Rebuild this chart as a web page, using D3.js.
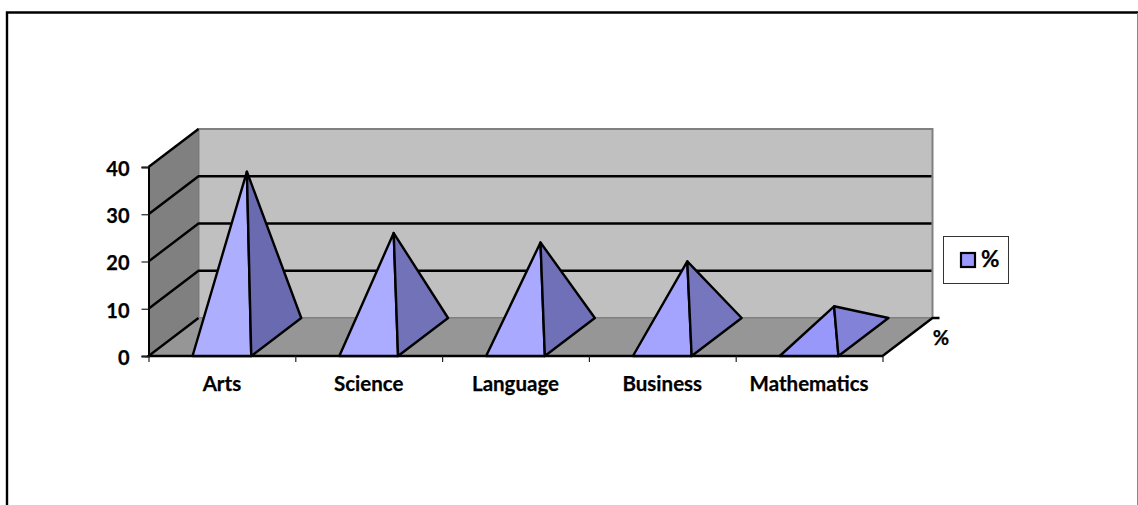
<!DOCTYPE html>
<html>
<head>
<meta charset="utf-8">
<script src="https://cdn.jsdelivr.net/npm/d3@7/dist/d3.min.js"></script>
<style>
  html, body { margin: 0; padding: 0; background: #fff; overflow: hidden; }
  text { font-family: Lato, "Open Sans", sans-serif; font-weight: 700; fill: #000; stroke: #000; stroke-width: 0.25px; }
</style>
</head>
<body>
<svg id="chart" width="1138" height="505"></svg>
<script>
const categories = ["Arts", "Science", "Language", "Business", "Mathematics"];
const seriesValues = [35, 22, 20, 16, 6.5];
const seriesName = "%";
const valueTicks = [0, 10, 20, 30, 40];

// Face shades for each pyramid: lit left face, shaded right face.
const leftShades = ["#aeaeff", "#ababff", "#a9a9ff", "#a4a4ff", "#9898fa"];
const rightShades = ["#6a6ab0", "#7272b8", "#7070b8", "#7676be", "#8282d8"];

const svg = d3.select("#chart");

// Front plane of the box, plus the shift to its back plane.
const left = 148.5, right = 882.5, floorY = 356, topY = 167;
const depthX = 50, depthY = -38;

const x = d3.scaleBand().domain(categories).range([left, right]).paddingInner(0).paddingOuter(0);
const y = d3.scaleLinear().domain([0, 40]).range([floorY, topY]);
const boundary = d3.scaleLinear().domain([0, categories.length]).range([left, right]);
const line = d3.line();

// Box walls
svg.append("path")
  .attr("d", line([[left + depthX, y(0) + depthY], [right + depthX, y(0) + depthY], [right + depthX, y(40) + depthY], [left + depthX, y(40) + depthY]]) + "Z")
  .attr("fill", "#c0c0c0").attr("stroke", "#808080").attr("stroke-width", 2);
svg.append("path")
  .attr("d", line([[left, y(0)], [right, y(0)], [right + depthX, y(0) + depthY], [left + depthX, y(0) + depthY]]) + "Z")
  .attr("fill", "#969696").attr("stroke", "#808080").attr("stroke-width", 1);
svg.append("path")
  .attr("d", line([[left, y(0)], [left + depthX, y(0) + depthY], [left + depthX, y(40) + depthY], [left, y(40)]]) + "Z")
  .attr("fill", "#808080").attr("stroke", "#7a7a7a").attr("stroke-width", 1);

// Gridlines run across the side wall and then along the back wall
svg.append("g").selectAll("path").data(valueTicks.slice(1)).join("path")
  .attr("d", v => line([[left, y(v)], [left + depthX, y(v) + depthY], [right + depthX - 1, y(v) + depthY]]))
  .attr("fill", "none").attr("stroke", "#000").attr("stroke-width", 2.4)
  .filter(v => v === 40)
  .attr("d", v => line([[left, y(v)], [left + depthX, y(v) + depthY]]));

// Floor edges
svg.append("path")
  .attr("d", line([[left + depthX, y(0) + depthY], [left, y(0)], [right, y(0)], [right + depthX, y(0) + depthY], [right + depthX + 7, y(0) + depthY]]))
  .attr("fill", "none").attr("stroke", "#000").attr("stroke-width", 2.4);

// Pyramids
const width = x.bandwidth() / 2.5;
const pyramids = svg.append("g").selectAll("g").data(categories).join("g")
  .attr("stroke", "#000").attr("stroke-width", 2.4).attr("stroke-linejoin", "round");

const corners = (name, i) => {
  const x0 = x(name) + (x.bandwidth() - width) / 2;
  const x1 = x0 + width;
  const apex = [(x0 + x1 + depthX) / 2, y(seriesValues[i]) + depthY / 2];
  return {
    frontLeft: [x0, y(0)],
    frontRight: [x1, y(0)],
    backRight: [x1 + depthX, y(0) + depthY],
    apex
  };
};
pyramids.append("path")
  .attr("d", (d, i) => { const c = corners(d, i); return line([c.frontLeft, c.apex, c.frontRight]) + "Z"; })
  .attr("fill", (d, i) => leftShades[i]);
pyramids.append("path")
  .attr("d", (d, i) => { const c = corners(d, i); return line([c.frontRight, c.apex, c.backRight]) + "Z"; })
  .attr("fill", (d, i) => rightShades[i]);

// Value axis
const yAxis = svg.append("g")
  .attr("transform", `translate(${left},0)`)
  .call(d3.axisLeft(y).tickValues(valueTicks).tickSize(7).tickPadding(12));
yAxis.select(".domain").attr("stroke", "#000").attr("stroke-width", 2);
yAxis.selectAll("line").attr("stroke", "#222").attr("stroke-width", 1.2);
yAxis.selectAll("text").attr("font-size", 20).attr("dy", "0.42em").style("font-family", "Lato, sans-serif");

// Category axis: ticks sit on the boundaries between categories
const xAxis = svg.append("g")
  .attr("transform", `translate(0,${floorY})`)
  .call(d3.axisBottom(boundary).ticks(categories.length).tickSize(6).tickFormat(""));
xAxis.select(".domain").remove();
xAxis.selectAll("line").attr("stroke", "#222").attr("stroke-width", 1.2);

svg.append("g").selectAll("text").data(categories).join("text")
  .attr("x", d => x(d) + x.bandwidth() / 2)
  .attr("y", 391)
  .attr("text-anchor", "middle")
  .attr("font-size", 20.5)
  .text(d => d);

// Series label beside the depth axis
svg.append("text").attr("x", 941).attr("y", 345).attr("text-anchor", "middle")
  .attr("font-size", 20).text(seriesName);

// Legend
const legend = svg.append("g");
legend.append("rect").attr("x", 943.5).attr("y", 236.5).attr("width", 65).attr("height", 47)
  .attr("fill", "#fff").attr("stroke", "#333").attr("stroke-width", 1);
legend.append("rect").attr("x", 961).attr("y", 253).attr("width", 14).attr("height", 14)
  .attr("fill", "#9999ff").attr("stroke", "#000").attr("stroke-width", 2.2);
legend.append("text").attr("x", 981).attr("y", 267).attr("font-size", 22.5).text(seriesName);

// Outer frame, open at the bottom
svg.append("path").attr("d", line([[7, 505], [7, 12.5], [1138, 12.5]]))
  .attr("fill", "none").attr("stroke", "#000").attr("stroke-width", 2.4);
svg.append("path").attr("d", line([[1137.5, 13], [1137.5, 505]]))
  .attr("fill", "none").attr("stroke", "#888").attr("stroke-width", 1);
</script>
</body>
</html>
